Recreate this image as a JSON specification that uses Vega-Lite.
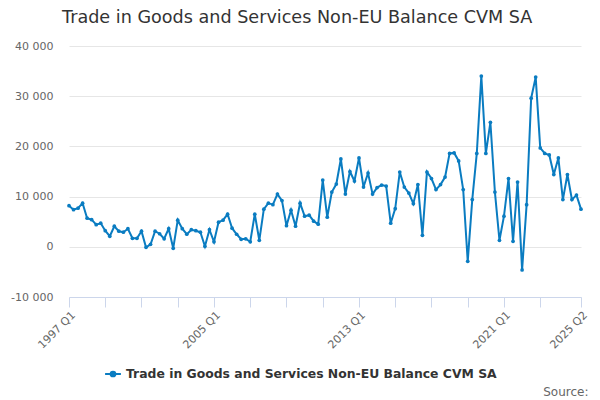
{
  "$schema": "https://vega.github.io/schema/vega-lite/v6.json",
  "width": 512,
  "height": 251,
  "autosize": "none",
  "padding": {"left": 69, "top": 46, "right": 19, "bottom": 103},
  "background": "white",
  "title": {
    "text": "Trade in Goods and Services Non-EU Balance CVM SA",
    "anchor": "start",
    "frame": "group",
    "font": "DejaVu Sans",
    "fontSize": 17.6,
    "fontWeight": "normal",
    "color": "#333333",
    "baseline": "alphabetic",
    "dx": -7,
    "dy": 1,
    "offset": 0
  },
  "config": {
    "view": {"stroke": null},
    "font": "DejaVu Sans"
  },
  "data": {
    "values": [
      {"quarter": "1997 Q1", "value": 8200},
      {"quarter": "1997 Q2", "value": 7400},
      {"quarter": "1997 Q3", "value": 7700},
      {"quarter": "1997 Q4", "value": 8700},
      {"quarter": "1998 Q1", "value": 5700},
      {"quarter": "1998 Q2", "value": 5400},
      {"quarter": "1998 Q3", "value": 4400},
      {"quarter": "1998 Q4", "value": 4700},
      {"quarter": "1999 Q1", "value": 3200},
      {"quarter": "1999 Q2", "value": 2100},
      {"quarter": "1999 Q3", "value": 4100},
      {"quarter": "1999 Q4", "value": 3100},
      {"quarter": "2000 Q1", "value": 2900},
      {"quarter": "2000 Q2", "value": 3600},
      {"quarter": "2000 Q3", "value": 1700},
      {"quarter": "2000 Q4", "value": 1700},
      {"quarter": "2001 Q1", "value": 3100},
      {"quarter": "2001 Q2", "value": -100},
      {"quarter": "2001 Q3", "value": 500},
      {"quarter": "2001 Q4", "value": 3100},
      {"quarter": "2002 Q1", "value": 2600},
      {"quarter": "2002 Q2", "value": 1600},
      {"quarter": "2002 Q3", "value": 3600},
      {"quarter": "2002 Q4", "value": -300},
      {"quarter": "2003 Q1", "value": 5300},
      {"quarter": "2003 Q2", "value": 3600},
      {"quarter": "2003 Q3", "value": 2500},
      {"quarter": "2003 Q4", "value": 3400},
      {"quarter": "2004 Q1", "value": 3200},
      {"quarter": "2004 Q2", "value": 2900},
      {"quarter": "2004 Q3", "value": 100},
      {"quarter": "2004 Q4", "value": 3400},
      {"quarter": "2005 Q1", "value": 1000},
      {"quarter": "2005 Q2", "value": 4900},
      {"quarter": "2005 Q3", "value": 5300},
      {"quarter": "2005 Q4", "value": 6500},
      {"quarter": "2006 Q1", "value": 3700},
      {"quarter": "2006 Q2", "value": 2500},
      {"quarter": "2006 Q3", "value": 1500},
      {"quarter": "2006 Q4", "value": 1600},
      {"quarter": "2007 Q1", "value": 1000},
      {"quarter": "2007 Q2", "value": 6500},
      {"quarter": "2007 Q3", "value": 1300},
      {"quarter": "2007 Q4", "value": 7500},
      {"quarter": "2008 Q1", "value": 8700},
      {"quarter": "2008 Q2", "value": 8400},
      {"quarter": "2008 Q3", "value": 10500},
      {"quarter": "2008 Q4", "value": 9200},
      {"quarter": "2009 Q1", "value": 4200},
      {"quarter": "2009 Q2", "value": 7300},
      {"quarter": "2009 Q3", "value": 4100},
      {"quarter": "2009 Q4", "value": 8700},
      {"quarter": "2010 Q1", "value": 6100},
      {"quarter": "2010 Q2", "value": 6300},
      {"quarter": "2010 Q3", "value": 5100},
      {"quarter": "2010 Q4", "value": 4500},
      {"quarter": "2011 Q1", "value": 13300},
      {"quarter": "2011 Q2", "value": 5900},
      {"quarter": "2011 Q3", "value": 10900},
      {"quarter": "2011 Q4", "value": 12500},
      {"quarter": "2012 Q1", "value": 17500},
      {"quarter": "2012 Q2", "value": 10500},
      {"quarter": "2012 Q3", "value": 15000},
      {"quarter": "2012 Q4", "value": 13100},
      {"quarter": "2013 Q1", "value": 17700},
      {"quarter": "2013 Q2", "value": 11900},
      {"quarter": "2013 Q3", "value": 14700},
      {"quarter": "2013 Q4", "value": 10500},
      {"quarter": "2014 Q1", "value": 11800},
      {"quarter": "2014 Q2", "value": 12300},
      {"quarter": "2014 Q3", "value": 12100},
      {"quarter": "2014 Q4", "value": 4700},
      {"quarter": "2015 Q1", "value": 7600},
      {"quarter": "2015 Q2", "value": 14900},
      {"quarter": "2015 Q3", "value": 11900},
      {"quarter": "2015 Q4", "value": 10700},
      {"quarter": "2016 Q1", "value": 8600},
      {"quarter": "2016 Q2", "value": 12400},
      {"quarter": "2016 Q3", "value": 2300},
      {"quarter": "2016 Q4", "value": 14900},
      {"quarter": "2017 Q1", "value": 13600},
      {"quarter": "2017 Q2", "value": 11400},
      {"quarter": "2017 Q3", "value": 12400},
      {"quarter": "2017 Q4", "value": 13900},
      {"quarter": "2018 Q1", "value": 18600},
      {"quarter": "2018 Q2", "value": 18700},
      {"quarter": "2018 Q3", "value": 17100},
      {"quarter": "2018 Q4", "value": 11400},
      {"quarter": "2019 Q1", "value": -2900},
      {"quarter": "2019 Q2", "value": 9400},
      {"quarter": "2019 Q3", "value": 18600},
      {"quarter": "2019 Q4", "value": 34000},
      {"quarter": "2020 Q1", "value": 18600},
      {"quarter": "2020 Q2", "value": 24800},
      {"quarter": "2020 Q3", "value": 10900},
      {"quarter": "2020 Q4", "value": 1300},
      {"quarter": "2021 Q1", "value": 6100},
      {"quarter": "2021 Q2", "value": 13600},
      {"quarter": "2021 Q3", "value": 1100},
      {"quarter": "2021 Q4", "value": 12900},
      {"quarter": "2022 Q1", "value": -4600},
      {"quarter": "2022 Q2", "value": 8400},
      {"quarter": "2022 Q3", "value": 29600},
      {"quarter": "2022 Q4", "value": 33800},
      {"quarter": "2023 Q1", "value": 19700},
      {"quarter": "2023 Q2", "value": 18600},
      {"quarter": "2023 Q3", "value": 18300},
      {"quarter": "2023 Q4", "value": 14400},
      {"quarter": "2024 Q1", "value": 17700},
      {"quarter": "2024 Q2", "value": 9400},
      {"quarter": "2024 Q3", "value": 14400},
      {"quarter": "2024 Q4", "value": 9400},
      {"quarter": "2025 Q1", "value": 10300},
      {"quarter": "2025 Q2", "value": 7500}
    ]
  },
  "mark": {
    "type": "line",
    "strokeWidth": 2,
    "point": {"filled": true, "size": 14}
  },
  "encoding": {
    "x": {
      "field": "quarter",
      "type": "ordinal",
      "sort": null,
      "scale": {"type": "point", "padding": 0},
      "axis": {
        "title": "Source:",
        "titleAnchor": "end",
        "titleAlign": "right",
        "titleBaseline": "alphabetic",
        "titleX": 519,
        "titleY": 98,
        "titleFont": "DejaVu Sans",
        "titleFontSize": 12,
        "titleFontWeight": "normal",
        "titleColor": "#666666",
        "values": ["1997 Q1", "1999 Q1", "2001 Q1", "2003 Q1", "2005 Q1", "2007 Q1", "2009 Q1", "2011 Q1", "2013 Q1", "2015 Q1", "2017 Q1", "2019 Q1", "2021 Q1", "2023 Q1", "2025 Q2"],
        "labelExpr": "indexof(['1997 Q1', '2005 Q1', '2013 Q1', '2021 Q1', '2025 Q2'], datum.label) >= 0 ? datum.label : ''",
        "labelAngle": -45,
        "labelAlign": "right",
        "labelBaseline": "top",
        "labelFontSize": 11,
        "labelColor": "#666666",
        "labelPadding": 2,
        "labelOverlap": false,
        "tickColor": "#ccd6eb",
        "tickSize": 10,
        "domainColor": "#ccd6eb",
        "grid": false
      }
    },
    "y": {
      "field": "value",
      "type": "quantitative",
      "scale": {"domain": [-10000, 40000], "nice": false},
      "axis": {
        "title": null,
        "values": [-10000, 0, 10000, 20000, 30000, 40000],
        "labelExpr": "replace(replace(format(datum.value, ','), ',', ' '), '\u2212', '-')",
        "labelFontSize": 11,
        "labelColor": "#666666",
        "labelPadding": 16,
        "ticks": false,
        "domain": false,
        "gridColor": "#e6e6e6"
      }
    },
    "color": {
      "datum": "Trade in Goods and Services Non-EU Balance CVM SA",
      "type": "nominal",
      "scale": {"range": ["#0a7cc1"]},
      "legend": {
        "title": null,
        "orient": "none",
        "legendX": 35,
        "legendY": 319,
        "symbolType": "M-1,0H1M-0.3,0A0.3,0.3 0 1,0 0.3,0A0.3,0.3 0 1,0 -0.3,0",
        "symbolSize": 250,
        "symbolStrokeWidth": 2,
        "symbolFillColor": "#0a7cc1",
        "labelFont": "DejaVu Sans",
        "labelFontSize": 12.4,
        "labelFontWeight": "bold",
        "labelColor": "#333333",
        "labelLimit": 500
      }
    }
  }
}
